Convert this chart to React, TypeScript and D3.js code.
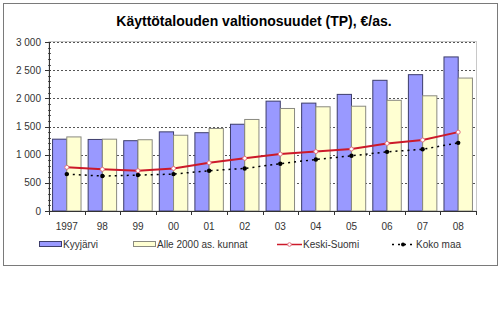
import React from "react";
import * as d3 from "d3";

const categories = ["1997", "98", "99", "00", "01", "02", "03", "04", "05", "06", "07", "08"];
const kyyjarvi = [1275, 1270, 1248, 1405, 1390, 1540, 1950, 1915, 2070, 2320, 2420, 2735];
const alle2000 = [1315, 1275, 1265, 1345, 1465, 1625, 1820, 1850, 1860, 1965, 2045, 2360];
const keskiSuomi = [775, 740, 715, 755, 855, 935, 1010, 1055, 1100, 1200, 1260, 1400];
const kokoMaa = [655, 620, 638, 655, 715, 755, 840, 915, 980, 1050, 1095, 1210];
const yTicks = [0, 500, 1000, 1500, 2000, 2500, 3000];
const yTickLabels = ["0", "500", "1 000", "1 500", "2 000", "2 500", "3 000"];
const title = "Käyttötalouden valtionosuudet (TP), €/as.";
const seriesNames = ["Kyyjärvi", "Alle 2000 as. kunnat", "Keski-Suomi", "Koko maa"];

const W = 500, H = 329;
const L = 49, R = 476, T = 42, B = 211;
const FONT = "'Liberation Sans', Arial, sans-serif";

export default function App() {
  const x = d3.scaleBand<string>().domain(categories).range([L, R]).padding(0);
  const y = d3.scaleLinear().domain([0, 3000]).range([B, T]);
  const bw = x.bandwidth();
  const barW = bw / 2.5;
  const off = (bw - 2 * barW) / 2;
  const cx = (c: string) => (x(c) as number) + bw / 2;

  const line = d3.line<number>().x((_, i) => cx(categories[i])).y((v) => y(v));
  const minor = d3.range(0, 3001, 100);

  return (
    <svg width={W} height={H} style={{ position: "absolute", left: 0, top: 0, background: "#fff" }} fontFamily={FONT}>
      <rect x={0} y={0} width={W} height={H} fill="#fff" />
      <rect x={3.5} y={3.5} width={494} height={262} fill="#fff" stroke="#7a7a7a" strokeWidth={1} />
      <text x={254} y={26} textAnchor="middle" fontSize={14} fontWeight="bold" fill="#000">{title}</text>

      {/* plot area border */}
      <rect x={L} y={T - 0.5} width={R - L + 0.5} height={B - T + 0.5} fill="#fff" stroke="#c8c8c8" strokeWidth={1} />

      {/* gridlines */}
      {yTicks.filter((t) => t > 0).map((t) => (
        <line key={t} x1={L} x2={R} y1={Math.round(y(t)) + 0.5} y2={Math.round(y(t)) + 0.5} stroke="#555" strokeWidth={1} strokeDasharray="2,2" />
      ))}

      {/* bars */}
      {categories.map((c, i) => (
        <g key={c}>
          <rect x={(x(c) as number) + off} y={y(kyyjarvi[i])} width={barW} height={B - y(kyyjarvi[i])} fill="#9999ff" stroke="#3d3d6b" strokeWidth={1} />
          <rect x={(x(c) as number) + off + barW} y={y(alle2000[i])} width={barW} height={B - y(alle2000[i])} fill="#ffffd2" stroke="#8a8a80" strokeWidth={1} />
        </g>
      ))}

      {/* lines */}
      <path d={line(kokoMaa) || ""} fill="none" stroke="#000" strokeWidth={1.5} strokeDasharray="2,4" />
      {kokoMaa.map((v, i) => (
        <circle key={i} cx={cx(categories[i])} cy={y(v)} r={2.2} fill="#000" />
      ))}
      <path d={line(keskiSuomi) || ""} fill="none" stroke="#cc1a2a" strokeWidth={2} />
      {keskiSuomi.map((v, i) => (
        <circle key={i} cx={cx(categories[i])} cy={y(v)} r={2} fill="#fff" stroke="#e07080" strokeWidth={1} />
      ))}

      {/* y axis */}
      <line x1={L + 0.5} x2={L + 0.5} y1={T} y2={B} stroke="#333" />
      {minor.map((m) => (
        <line key={m} x1={L - 1} x2={L + 2} y1={Math.round(y(m)) + 0.5} y2={Math.round(y(m)) + 0.5} stroke="#333" strokeWidth={0.8} />
      ))}
      {yTicks.map((t, i) => (
        <g key={t}>
          <line x1={L - 4} x2={L} y1={Math.round(y(t)) + 0.5} y2={Math.round(y(t)) + 0.5} stroke="#333" />
          <text x={41} y={y(t) + 3.5} textAnchor="end" fontSize={10} fill="#333">{yTickLabels[i]}</text>
        </g>
      ))}

      {/* x axis */}
      <line x1={L} x2={R} y1={B + 0.5} y2={B + 0.5} stroke="#333" />
      {categories.map((c) => (
        <line key={c} x1={Math.round(x(c) as number) + 0.5} x2={Math.round(x(c) as number) + 0.5} y1={B} y2={B + 4} stroke="#333" />
      ))}
      <line x1={R + 0.5} x2={R + 0.5} y1={B} y2={B + 4} stroke="#333" />
      {categories.map((c) => (
        <text key={c} x={cx(c)} y={230} textAnchor="middle" fontSize={10} fill="#333">{c}</text>
      ))}

      {/* legend */}
      <rect x={39.5} y={241.5} width={22} height={5} fill="#9999ff" stroke="#3d3d6b" />
      <text x={63} y={248} fontSize={10} fill="#333">{seriesNames[0]}</text>
      <rect x={133.5} y={241.5} width={22} height={5} fill="#ffffd2" stroke="#8a8a80" />
      <text x={157} y={248} fontSize={10} fill="#333">{seriesNames[1]}</text>
      <line x1={277} x2={302} y1={244.5} y2={244.5} stroke="#cc1a2a" strokeWidth={1.5} />
      <circle cx={289.5} cy={244.5} r={1.8} fill="#fff" stroke="#e07080" strokeWidth={1} />
      <text x={303} y={248} fontSize={10} fill="#333">{seriesNames[2]}</text>
      <line x1={392} x2={414} y1={244.5} y2={244.5} stroke="#000" strokeWidth={1.5} strokeDasharray="2,4" />
      <circle cx={403} cy={244.5} r={2} fill="#000" />
      <text x={416} y={248} fontSize={10} fill="#333">{seriesNames[3]}</text>
    </svg>
  );
}
